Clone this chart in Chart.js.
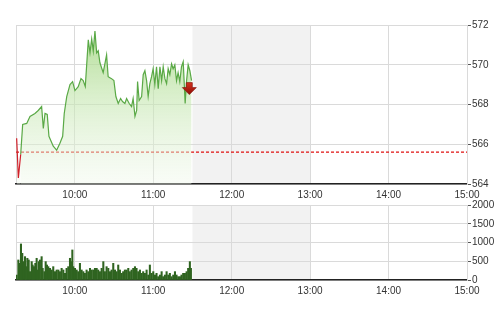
<!DOCTYPE html>
<html>
<head>
<meta charset="utf-8">
<script src="https://cdn.jsdelivr.net/npm/chart.js@4.4.0/dist/chart.umd.min.js"></script>
<style>
  html, body { margin: 0; padding: 0; background: #fff; }
  #wrap { position: relative; width: 500px; height: 312px; }
  #priceBox { position: absolute; left: 0; top: 0; width: 500px; height: 200px; }
  #volBox { position: absolute; left: 0; top: 190px; width: 500px; height: 122px; }
</style>
</head>
<body>
<div id="wrap">
  <div id="priceBox"><canvas id="priceChart"></canvas></div>
  <div id="volBox"><canvas id="volChart"></canvas></div>
</div>
<script>
// Datos (minutos desde medianoche)
const xTicks = [555, 600, 660, 720, 780, 840, 900];
const priceTicks = [564, 566, 568, 570, 572];
const volTicks = [0, 500, 1000, 1500, 2000];
const refPrice = 565.6;
const lunchStart = 690;
const lunchEnd = 780;
const lastMark = { x: 687.6, y: 568.8 };

const priceTimes = [555.5, 556.8, 558.6, 560.1, 563.2, 565.7, 569.5, 572, 574.6, 575.9,
  577.2, 578.9, 580.2, 583.5, 586.1, 588.6, 590.7, 591.9, 593.8, 596.3,
  598.3, 600.1, 602.6, 604.7, 606.4, 608, 610.3, 611.6, 612.9, 614.1,
  615.4, 616.7, 617.9, 619.2, 621.7, 624.3, 625.5, 628.1, 629.9, 631.4,
  633.2, 635, 636.5, 638.3, 639.6, 641.6, 643.4, 644.6, 646, 647.3,
  648, 649.2, 651.1, 652.3, 653.6, 654.9, 656.1, 657.4, 658.7, 659.9,
  661.2, 662.5, 663.8, 665.1, 666.4, 667.6, 668.9, 670.2, 671.4, 672.7,
  674, 675.2, 676.5, 677.8, 679, 680.3, 681.6, 682.9, 683.6, 684.4,
  685.5, 686.7, 688, 689.3];
const prices = [566.3, 564.3, 565.5, 567.0, 567.05, 567.4, 567.55, 567.7, 567.9, 566.8,
  567.55, 567.5, 566.4, 565.9, 565.7, 566.05, 566.4, 567.55, 568.4, 569.0,
  569.15, 568.7, 568.9, 569.3, 569.2, 568.9, 571.25, 570.6, 571.3, 570.7,
  571.7, 570.6, 570.7, 570.1, 569.6, 570.5, 569.4, 569.3, 569.2, 568.4,
  568.05, 568.3, 568.15, 568.05, 568.3, 568.05, 567.9, 568.3, 567.4, 567.7,
  569.15, 568.2, 568.4, 569.5, 569.7, 569.2, 568.4, 569.05, 569.4, 569.8,
  569.0, 569.9, 568.8, 569.9, 569.2, 569.9, 569.3, 569.05, 569.8, 569.5,
  570.05, 569.8, 570.0, 569.2, 569.6, 569.15, 569.9, 570.15, 569.2, 568.05,
  569.2, 570.0, 569.7, 569.2];

const volTimes = [555.5, 556.8, 558.1, 558.8, 559.8, 560.6, 561.9, 562.6, 563.7, 564.7,
  565.7, 567.0, 567.7, 568.8, 569.8, 570.8, 571.6, 572.6, 573.3, 574.6,
  575.4, 576.7, 577.7, 578.7, 579.7, 581.0, 582.3, 583.5, 584.8, 586.1,
  587.4, 588.6, 589.9, 591.2, 592.5, 593.7, 595.0, 596.3, 597.0, 598.1,
  598.8, 600.1, 601.4, 602.6, 603.9, 605.2, 606.5, 607.7, 609.0, 610.3,
  611.6, 612.8, 614.1, 615.4, 616.7, 617.9, 619.2, 620.5, 621.8, 623.0,
  624.3, 625.6, 626.9, 628.1, 629.4, 630.7, 632.0, 633.2, 634.5, 635.8,
  637.0, 638.3, 639.6, 640.9, 642.1, 643.4, 644.7, 646.0, 647.2, 648.5,
  649.8, 651.1, 652.3, 653.6, 654.9, 656.2, 657.4, 658.7, 660.0, 661.3,
  662.5, 663.8, 665.1, 666.4, 667.6, 668.9, 670.2, 671.5, 672.7, 674.0,
  675.3, 676.6, 677.8, 679.1, 680.4, 681.6, 682.9, 684.2, 685.5, 686.7,
  688.0, 688.8];
const volumes = [133, 534, 445, 961, 712, 490, 623, 356, 579, 534,
  223, 490, 400, 356, 445, 579, 267, 490, 534, 623,
  312, 223, 490, 400, 356, 312, 267, 356, 223, 267,
  267, 223, 312, 267, 178, 312, 356, 579, 490, 801,
  356, 312, 267, 223, 445, 267, 223, 178, 267, 223,
  312, 267, 267, 312, 312, 267, 223, 312, 490, 223,
  356, 312, 223, 267, 445, 267, 223, 400, 267, 178,
  223, 267, 267, 312, 223, 267, 312, 356, 312, 223,
  267, 178, 223, 178, 267, 133, 400, 178, 223, 133,
  178, 89, 133, 223, 89, 133, 223, 133, 178, 89,
  133, 223, 133, 89, 89, 133, 178, 178, 223, 312,
  490, 312];

const tickFont = { family: "'Liberation Sans Narrow', 'Liberation Sans', Arial, sans-serif", size: 10 };
const tickColor = '#333';
const gridColor = '#dadada';

function fmtTime(v) {
    if (v === 555) return '';
    const h = Math.floor(v / 60);
    const m = v % 60;
    return h + ':' + (m < 10 ? '0' + m : m);
}

// Zona de receso (gris)
const lunchPlugin = {
    id: 'lunch',
    beforeDraw(chart) {
        const { ctx, chartArea, scales } = chart;
        const x1 = scales.x.getPixelForValue(lunchStart);
        const x2 = scales.x.getPixelForValue(lunchEnd);
        ctx.save();
        ctx.fillStyle = '#f2f2f2';
        ctx.fillRect(x1, chartArea.top, x2 - x1, chartArea.bottom - chartArea.top);
        ctx.restore();
    }
};

// Flecha roja sobre el último precio
const arrowPlugin = {
    id: 'arrow',
    afterDatasetsDraw(chart) {
        const { ctx, scales } = chart;
        const cx = scales.x.getPixelForValue(lastMark.x);
        const cy = scales.y.getPixelForValue(lastMark.y);
        ctx.save();
        const grad = ctx.createLinearGradient(0, cy - 6, 0, cy + 6);
        grad.addColorStop(0, '#d8321e');
        grad.addColorStop(1, '#8c0c06');
        ctx.fillStyle = grad;
        ctx.strokeStyle = '#7a0a05';
        ctx.lineWidth = 0.6;
        ctx.beginPath();
        ctx.moveTo(cx - 3, cy - 6);
        ctx.lineTo(cx + 3, cy - 6);
        ctx.lineTo(cx + 3, cy - 1);
        ctx.lineTo(cx + 7, cy - 1);
        ctx.lineTo(cx, cy + 6);
        ctx.lineTo(cx - 7, cy - 1);
        ctx.lineTo(cx - 3, cy - 1);
        ctx.closePath();
        ctx.fill();
        ctx.stroke();
        ctx.restore();
    }
};

function xScale(which) {
    return {
        type: 'linear',
        min: 555,
        max: 900,
        offset: false,
        afterBuildTicks: s => { s.ticks = xTicks.map(v => ({ value: v })); },
        afterFit: s => { s.height = which === 'top' ? 16 : 32; },
        grid: { color: gridColor, drawTicks: false, offset: false },
        border: { color: '#222', width: 1.5 },
        ticks: { font: tickFont, color: tickColor, padding: 5, maxRotation: 0, autoSkip: false, callback: fmtTime }
    };
}

function yScale(min, max, ticks) {
    return {
        position: 'right',
        min: min,
        max: max,
        afterBuildTicks: s => { s.ticks = ticks.map(v => ({ value: v })); },
        afterFit: s => { s.width = 33; },
        grid: { color: gridColor, tickLength: 4, tickColor: '#555' },
        border: { color: gridColor },
        ticks: { font: tickFont, color: tickColor, padding: 1, callback: v => String(v) }
    };
}

const pricePoints = priceTimes.map((t, i) => ({ x: t, y: prices[i] }));

new Chart(document.getElementById('priceChart'), {
    type: 'line',
    data: {
        datasets: [{
            data: pricePoints,
            borderColor: '#5aa946',
            borderWidth: 1.2,
            pointRadius: 0,
            tension: 0,
            fill: 'start',
            segment: {
                borderColor: ctx => ((ctx.p0.parsed.y + ctx.p1.parsed.y) / 2 < refPrice ? '#d0202a' : '#5aa946')
            },
            backgroundColor: ctx => {
                const area = ctx.chart.chartArea;
                if (!area) return 'rgba(180,220,150,0.5)';
                const g = ctx.chart.ctx.createLinearGradient(0, area.top, 0, area.bottom);
                g.addColorStop(0, 'rgba(160,212,125,0.85)');
                g.addColorStop(0.5, 'rgba(200,232,180,0.6)');
                g.addColorStop(1, 'rgba(240,248,235,0.4)');
                return g;
            }
        }, {
            data: [{ x: 555, y: refPrice }, { x: 900, y: refPrice }],
            borderColor: '#e01010',
            borderWidth: 1.2,
            borderDash: [3, 2],
            pointRadius: 0,
            fill: false
        }]
    },
    options: {
        responsive: true,
        maintainAspectRatio: false,
        animation: false,
        layout: { padding: { left: 16, top: 25, right: 0, bottom: 0 } },
        plugins: { legend: { display: false }, tooltip: { enabled: false } },
        scales: {
            x: xScale('top'),
            y: yScale(564, 572, priceTicks)
        }
    },
    plugins: [lunchPlugin, arrowPlugin]
});

const volPoints = volTimes.map((t, i) => ({ x: t, y: volumes[i] }));

new Chart(document.getElementById('volChart'), {
    type: 'bar',
    data: {
        datasets: [{
            data: volPoints,
            backgroundColor: '#2f6420',
            barThickness: 1.4
        }]
    },
    options: {
        responsive: true,
        maintainAspectRatio: false,
        animation: false,
        layout: { padding: { left: 16, top: 15, right: 0, bottom: 0 } },
        plugins: { legend: { display: false }, tooltip: { enabled: false } },
        scales: {
            x: xScale('bottom'),
            y: yScale(0, 2000, volTicks)
        }
    },
    plugins: [lunchPlugin]
});
</script>
</body>
</html>
